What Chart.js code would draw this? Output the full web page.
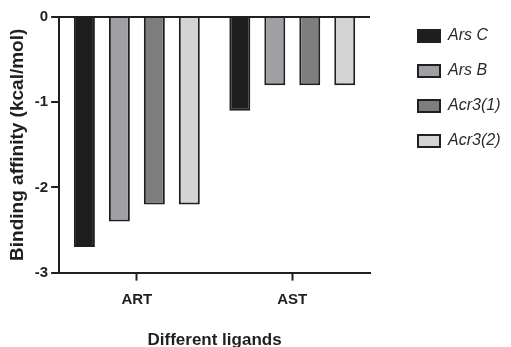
<!DOCTYPE html>
<html>
<head>
<meta charset="utf-8">
<script src="https://cdn.jsdelivr.net/npm/chart.js@4"></script>
<style>
  body { margin: 0; background: #fff; }
  canvas { display: block; }
</style>
</head>
<body>
<canvas id="chart" width="511" height="347"></canvas>
<script>
const ligands = ["ART", "AST"];
const arsC = [-2.7, -1.1];
const arsB = [-2.4, -0.8];
const acr3a = [-2.2, -0.8];
const acr3b = [-2.2, -0.8];
const yTicks = [0, -1, -2, -3];

const FONT = "'Liberation Sans', Arial, sans-serif";
const INK = '#1f1f1f';

function series(label, data, fill) {
    return {
        label: label,
        data: data,
        backgroundColor: fill,
        borderColor: INK,
        borderWidth: 2,
        borderSkipped: 'start',
        barPercentage: 0.6,
        categoryPercentage: 0.9
    };
}

// legend sits on the right with a wide gap from the plot, like the original
const legendPlacer = {
    id: 'legendPlacer',
    beforeUpdate(chart) {
        const lg = chart.legend;
        if (lg && !lg._wrapped) {
            const fit = lg.fit.bind(lg);
            lg.fit = function () { fit(); this.width = 141; };
            lg._wrapped = true;
        }
    },
    afterLayout(chart) {
        const lg = chart.legend;
        const pad = lg.options.labels.padding;
        const dx = (chart.chartArea.right + 48) - (lg.left + pad);
        const dy = (chart.chartArea.top + 11) - (lg.top + pad);
        lg.left += dx; lg.right += dx;
        lg.top += dy; lg.bottom += dy;
    }
};

const ctx = document.getElementById("chart").getContext('2d');
new Chart(ctx, {
    type: "bar",
    data: {
        labels: ligands,
        datasets: [
            series("Ars C", arsC, '#1e1e1e'),
            series("Ars B", arsB, '#a0a0a4'),
            series("Acr3(1)", acr3a, '#7e7e7e'),
            series("Acr3(2)", acr3b, '#d4d4d4')
        ]
    },
    plugins: [legendPlacer],
    options: {
        responsive: false,
        animation: false,
        layout: { padding: { top: 17, right: 0, left: 6, bottom: -4 } },
        plugins: {
            tooltip: { enabled: false },
            legend: {
                position: 'right',
                align: 'start',
                labels: {
                    boxWidth: 22,
                    boxHeight: 12,
                    padding: 19,
                    color: '#2a2a2a',
                    font: { family: FONT, size: 16, style: 'italic' }
                }
            }
        },
        scales: {
            x: {
                grid: {
                    offset: false,
                    drawOnChartArea: false,
                    tickLength: 8,
                    tickWidth: 2,
                    tickColor: INK
                },
                border: { color: INK, width: 2 },
                ticks: { color: INK, font: { family: FONT, size: 15, weight: 'bold' }, padding: 10 },
                title: {
                    display: true,
                    text: 'Different ligands',
                    color: INK,
                    font: { family: FONT, size: 17, weight: 'bold' },
                    padding: { top: 12, bottom: 0 }
                }
            },
            y: {
                min: -3,
                max: 0,
                afterBuildTicks: (axis) => { axis.ticks = yTicks.map(v => ({ value: v })); },
                grid: {
                    color: (c) => c.tick && c.tick.value === 0 ? INK : 'rgba(0,0,0,0)',
                    lineWidth: 2,
                    tickLength: 8,
                    tickWidth: 2,
                    tickColor: INK
                },
                border: { color: INK, width: 2 },
                ticks: { color: INK, font: { family: FONT, size: 15, weight: 'bold' }, padding: 3 },
                title: {
                    display: true,
                    text: 'Binding affinity (kcal/mol)',
                    color: INK,
                    font: { family: FONT, size: 19, weight: 'bold' },
                    padding: { top: 0, bottom: 3 }
                }
            }
        }
    }
});
</script>
</body>
</html>
